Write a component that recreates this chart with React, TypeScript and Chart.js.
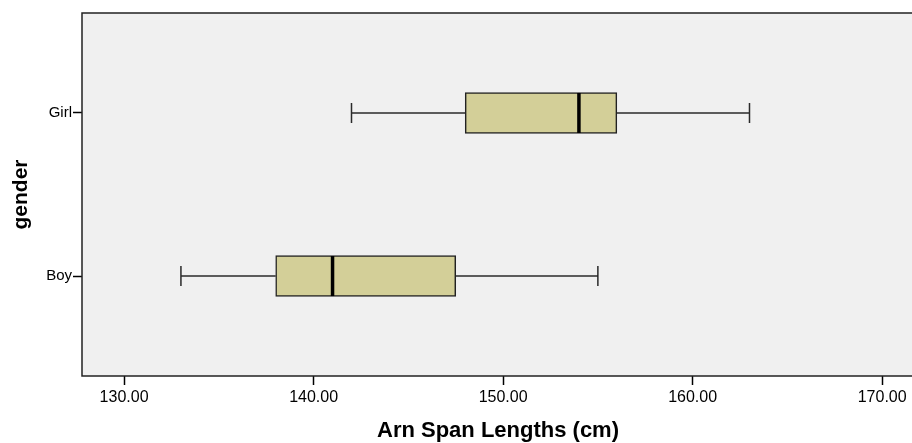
import React, { useEffect, useRef } from "react";
import { Chart, registerables } from "chart.js";

Chart.register(...registerables);

// Data
const categories = ["Boy", "Girl"]; // index 0 = Boy (bottom), 1 = Girl (top)
const whiskerMin = [133, 142];
const q1 = [138, 148];
const median = [141, 154];
const q3 = [147.5, 156];
const whiskerMax = [155, 163];

const xTitle = "Arn Span Lengths (cm)";
const yTitle = "gender";

const FONT = 'Arial, "Liberation Sans", sans-serif';

const boxPlugin = {
  id: "boxExtras",
  beforeDraw(chart: any) {
    const { ctx, chartArea } = chart;
    ctx.save();
    ctx.fillStyle = "#f0f0f0";
    ctx.fillRect(chartArea.left, chartArea.top, chartArea.right - chartArea.left, chartArea.bottom - chartArea.top);
    ctx.restore();
  },
  beforeDatasetsDraw(chart: any) {
    const { ctx } = chart;
    const xs = chart.scales.x;
    const ys = chart.scales.y;
    ctx.save();
    ctx.strokeStyle = "#2a2a2a";
    ctx.lineWidth = 1.5;
    categories.forEach((_, i) => {
      const y = ys.getPixelForValue(i);
      const xMin = xs.getPixelForValue(whiskerMin[i]);
      const xQ1 = xs.getPixelForValue(q1[i]);
      const xQ3 = xs.getPixelForValue(q3[i]);
      const xMax = xs.getPixelForValue(whiskerMax[i]);
      ctx.beginPath();
      ctx.moveTo(xMin, y);
      ctx.lineTo(xQ1, y);
      ctx.moveTo(xQ3, y);
      ctx.lineTo(xMax, y);
      ctx.moveTo(xMin, y - 10);
      ctx.lineTo(xMin, y + 10);
      ctx.moveTo(xMax, y - 10);
      ctx.lineTo(xMax, y + 10);
      ctx.stroke();
    });
    ctx.restore();
  },
  afterDatasetsDraw(chart: any) {
    const { ctx } = chart;
    const xs = chart.scales.x;
    const ys = chart.scales.y;
    ctx.save();
    ctx.strokeStyle = "#000";
    ctx.lineWidth = 3.5;
    categories.forEach((_, i) => {
      const y = ys.getPixelForValue(i);
      const xm = xs.getPixelForValue(median[i]);
      ctx.beginPath();
      ctx.moveTo(xm, y - 20);
      ctx.lineTo(xm, y + 20);
      ctx.stroke();
    });
    ctx.restore();
  },
  afterDraw(chart: any) {
    const { ctx, chartArea } = chart;
    ctx.save();
    ctx.strokeStyle = "#222";
    ctx.lineWidth = 1.5;
    ctx.strokeRect(chartArea.left, chartArea.top, chartArea.right - chartArea.left, chartArea.bottom - chartArea.top);
    ctx.restore();
  },
};

export default function App() {
  const ref = useRef<HTMLCanvasElement | null>(null);

  useEffect(() => {
    document.body.style.margin = "0";
    document.body.style.overflow = "hidden";
    if (!ref.current) return;
    const chart = new Chart(ref.current, {
      type: "bar",
      data: {
        datasets: [
          {
            data: categories.map((_, i) => ({ y: i, x: [q1[i], q3[i]] })) as any,
            backgroundColor: "#d3cf98",
            borderColor: "#222",
            borderWidth: 1.5,
            borderSkipped: false,
            barThickness: 41,
          },
        ],
      },
      options: {
        indexAxis: "y",
        animation: false,
        responsive: false,
        layout: { padding: { top: 13, right: 2, left: 0, bottom: 0 } },
        plugins: {
          legend: { display: false },
          tooltip: { enabled: false },
        },
        scales: {
          x: {
            type: "linear",
            min: 127.78,
            max: 171.68,
            offset: false,
            afterFit: (s: any) => {
              s.height = 67;
            },
            ticks: {
              stepSize: 10,
              includeBounds: false,
              color: "#000",
              padding: 3,
              font: { family: FONT, size: 16 },
              callback: (v: any) => Number(v).toFixed(2),
              maxRotation: 0,
            },
            grid: {
              offset: false,
              drawOnChartArea: false,
              drawTicks: true,
              tickLength: 9,
              tickColor: "#000",
              tickWidth: 1.5,
            },
            border: { display: false },
            title: {
              display: true,
              text: xTitle,
              color: "#000",
              font: { family: FONT, size: 22, weight: "bold" },
              padding: { top: 0, bottom: -1 },
            },
          },
          y: {
            type: "linear",
            min: -0.613,
            max: 1.613,
            offset: false,
            afterBuildTicks: (s: any) => {
              s.ticks = categories.map((_, i) => ({ value: i }));
            },
            afterFit: (s: any) => {
              s.width = 82;
            },
            ticks: {
              color: "#000",
              padding: 1,
              font: { family: FONT, size: 15 },
              callback: (v: any) => categories[Math.round(Number(v))] ?? "",
            },
            grid: {
              offset: false,
              drawOnChartArea: false,
              drawTicks: true,
              tickLength: 9,
              tickColor: "#000",
              tickWidth: 1.5,
            },
            border: { display: false },
            title: {
              display: true,
              text: yTitle,
              color: "#000",
              font: { family: FONT, size: 21, weight: "bold" },
              padding: { top: 9, bottom: 0 },
            },
          },
        },
      },
      plugins: [boxPlugin],
    } as any);
    return () => chart.destroy();
  }, []);

  return (
    <div style={{ width: 912, height: 443, overflow: "hidden", position: "relative" }}>
      <canvas ref={ref} width={916} height={443} style={{ display: "block" }} />
    </div>
  );
}
